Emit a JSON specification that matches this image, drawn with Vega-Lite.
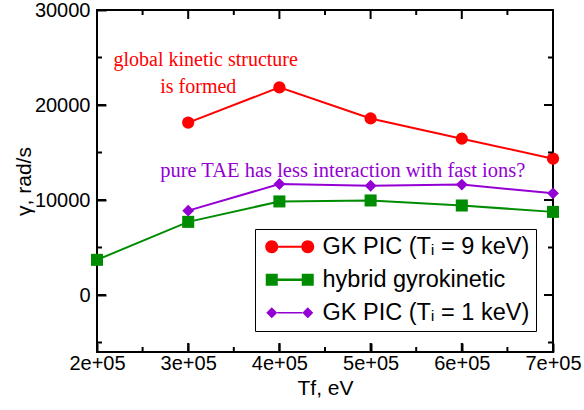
{
  "$schema": "https://vega.github.io/schema/vega-lite/v6.json",
  "width": 456,
  "height": 342,
  "autosize": "none",
  "padding": {"left": 97, "top": 10, "right": 31, "bottom": 58},
  "background": "white",
  "config": {
    "view": {"stroke": "black", "strokeWidth": 2},
    "font": "Liberation Sans",
    "axis": {"domain": false, "grid": false, "ticks": true, "tickColor": "black", "tickOpacity": 1, "tickWidth": 2, "labelColor": "black", "titleColor": "black", "labelFont": "Liberation Sans", "titleFont": "Liberation Sans", "labelFontSize": 20, "titleFontSize": 21, "titleFontWeight": "normal", "labelFlush": false, "labelOverlap": false}
  },
  "datasets": {
    "main": [
      {"Tf": 300000, "gamma": 18150, "series": "GK PIC (Tᵢ = 9 keV)"},
      {"Tf": 400000, "gamma": 21850, "series": "GK PIC (Tᵢ = 9 keV)"},
      {"Tf": 500000, "gamma": 18580, "series": "GK PIC (Tᵢ = 9 keV)"},
      {"Tf": 600000, "gamma": 16450, "series": "GK PIC (Tᵢ = 9 keV)"},
      {"Tf": 700000, "gamma": 14350, "series": "GK PIC (Tᵢ = 9 keV)"},
      {"Tf": 200000, "gamma": 3700, "series": "hybrid gyrokinetic"},
      {"Tf": 300000, "gamma": 7700, "series": "hybrid gyrokinetic"},
      {"Tf": 400000, "gamma": 9850, "series": "hybrid gyrokinetic"},
      {"Tf": 500000, "gamma": 9950, "series": "hybrid gyrokinetic"},
      {"Tf": 600000, "gamma": 9420, "series": "hybrid gyrokinetic"},
      {"Tf": 700000, "gamma": 8750, "series": "hybrid gyrokinetic"},
      {"Tf": 300000, "gamma": 8880, "series": "GK PIC (Tᵢ = 1 keV)"},
      {"Tf": 400000, "gamma": 11680, "series": "GK PIC (Tᵢ = 1 keV)"},
      {"Tf": 500000, "gamma": 11500, "series": "GK PIC (Tᵢ = 1 keV)"},
      {"Tf": 600000, "gamma": 11620, "series": "GK PIC (Tᵢ = 1 keV)"},
      {"Tf": 700000, "gamma": 10700, "series": "GK PIC (Tᵢ = 1 keV)"}
    ],
    "redNotes": [
      {"Tf": 319200, "gamma": 24140, "note": "global kinetic structure"},
      {"Tf": 311100, "gamma": 21230, "note": "is formed"}
    ],
    "purpleNotes": [
      {"Tf": 469500, "gamma": 12450, "note": "pure TAE has less interaction with fast ions?"}
    ],
    "xMajor": [{"v": 300000}, {"v": 400000}, {"v": 500000}, {"v": 600000}],
    "xMinor": [{"v": 250000}, {"v": 350000}, {"v": 450000}, {"v": 550000}, {"v": 650000}],
    "yMajor": [{"v": 0}, {"v": 10000}, {"v": 20000}],
    "yMinor": [{"v": -5000}, {"v": 5000}, {"v": 15000}, {"v": 25000}]
  },
  "layer": [
    {
      "data": {"name": "main"},
      "mark": {"type": "line", "strokeWidth": 2},
      "encoding": {
        "x": {"field": "Tf", "type": "quantitative", "scale": {"domain": [200000, 700000], "nice": false, "zero": false},
          "axis": {"orient": "bottom", "values": [200000, 300000, 400000, 500000, 600000, 700000], "offset": -9, "tickSize": 9, "labelPadding": 1, "labelExpr": "replace(format(datum.value, '.0e'), '+', '+0')", "title": "Tf, eV", "titlePadding": 4}},
        "y": {"field": "gamma", "type": "quantitative", "scale": {"domain": [-6000, 30000], "nice": false, "zero": false},
          "axis": {"orient": "left", "values": [0, 10000, 20000, 30000], "offset": -9, "tickSize": 9, "labelPadding": 7, "format": "d", "title": "γ, rad/s", "titlePadding": 0}},
        "color": {"field": "series", "type": "nominal",
          "scale": {"domain": ["GK PIC (Tᵢ = 9 keV)", "hybrid gyrokinetic", "GK PIC (Tᵢ = 1 keV)"], "range": ["#ff0000", "#008c00", "#9400d3"]},
          "legend": {
            "title": null, "orient": "none", "legendX": 158, "legendY": 219,
            "strokeColor": "black", "fillColor": "white", "padding": 6,
            "labelFont": "Liberation Sans", "labelFontSize": 23.5, "labelColor": "black", "labelLimit": 400,
            "symbolSize": 100, "symbolOffset": 17, "labelOffset": 21, "rowPadding": 8,
            "encode": {"symbols": {"update": {
              "shape": {"signal": "datum.value === 'hybrid gyrokinetic' ? 'M-4.8,-1.2 L-2.4,-1.2 L-2.4,1.2 L-4.8,1.2 Z M-2.4,-0.25 L2.4,-0.25 L2.4,0.25 L-2.4,0.25 Z M2.4,-1.2 L4.8,-1.2 L4.8,1.2 L2.4,1.2 Z' : (datum.value === 'GK PIC (Tᵢ = 9 keV)' ? 'M-4.9,0 A1.3,1.3 0 1,0 -2.3,0 A1.3,1.3 0 1,0 -4.9,0 Z M-2.3,-0.2 L2.3,-0.2 L2.3,0.2 L-2.3,0.2 Z M2.3,0 A1.3,1.3 0 1,0 4.9,0 A1.3,1.3 0 1,0 2.3,0 Z' : 'M-4.7,0 L-3.6,-1.1 L-2.5,0 L-3.6,1.1 Z M-2.5,-0.15 L2.5,-0.15 L2.5,0.15 L-2.5,0.15 Z M2.5,0 L3.6,-1.1 L4.7,0 L3.6,1.1 Z')"},
              "fill": {"scale": "color", "field": "value"},
              "fillOpacity": {"value": 1},
              "opacity": {"value": 1},
              "strokeWidth": {"value": 0}
            }}}
          }},
        "detail": {"field": "series"}
      }
    },
    {
      "data": {"name": "main"},
      "mark": {"type": "point", "filled": true, "opacity": 1},
      "encoding": {
        "x": {"field": "Tf", "type": "quantitative", "axis": null},
        "y": {"field": "gamma", "type": "quantitative", "axis": null},
        "color": {"field": "series", "type": "nominal", "legend": null},
        "shape": {"field": "series", "type": "nominal", "legend": null,
          "scale": {"domain": ["GK PIC (Tᵢ = 9 keV)", "hybrid gyrokinetic", "GK PIC (Tᵢ = 1 keV)"], "range": ["circle", "square", "diamond"]}},
        "size": {"field": "series", "type": "nominal", "legend": null,
          "scale": {"domain": ["GK PIC (Tᵢ = 9 keV)", "hybrid gyrokinetic", "GK PIC (Tᵢ = 1 keV)"], "range": [150, 140, 120]}}
      }
    },
    {
      "data": {"name": "redNotes"},
      "mark": {"type": "text", "color": "#ff0000", "font": "Liberation Serif", "fontSize": 20, "align": "center", "baseline": "alphabetic"},
      "encoding": {
        "x": {"field": "Tf", "type": "quantitative", "axis": null},
        "y": {"field": "gamma", "type": "quantitative", "axis": null},
        "text": {"field": "note"}
      }
    },
    {
      "data": {"name": "purpleNotes"},
      "mark": {"type": "text", "color": "#9400d3", "font": "Liberation Serif", "fontSize": 20.5, "align": "center", "baseline": "alphabetic"},
      "encoding": {
        "x": {"field": "Tf", "type": "quantitative", "axis": null},
        "y": {"field": "gamma", "type": "quantitative", "axis": null},
        "text": {"field": "note"}
      }
    },
    {
      "data": {"name": "xMajor"},
      "mark": {"type": "rule", "color": "black", "strokeWidth": 2, "opacity": 1},
      "encoding": {
        "x": {"field": "v", "type": "quantitative", "axis": null},
        "y": {"datum": -6000, "type": "quantitative", "axis": null},
        "y2": {"datum": -5050}
      }
    },
    {
      "data": {"name": "xMajor"},
      "mark": {"type": "rule", "color": "black", "strokeWidth": 2, "opacity": 1},
      "encoding": {
        "x": {"field": "v", "type": "quantitative", "axis": null},
        "y": {"datum": 30000, "type": "quantitative", "axis": null},
        "y2": {"datum": 29050}
      }
    },
    {
      "data": {"name": "xMinor"},
      "mark": {"type": "rule", "color": "black", "strokeWidth": 2, "opacity": 1},
      "encoding": {
        "x": {"field": "v", "type": "quantitative", "axis": null},
        "y": {"datum": -6000, "type": "quantitative", "axis": null},
        "y2": {"datum": -5470}
      }
    },
    {
      "data": {"name": "xMinor"},
      "mark": {"type": "rule", "color": "black", "strokeWidth": 2, "opacity": 1},
      "encoding": {
        "x": {"field": "v", "type": "quantitative", "axis": null},
        "y": {"datum": 30000, "type": "quantitative", "axis": null},
        "y2": {"datum": 29470}
      }
    },
    {
      "data": {"name": "yMajor"},
      "mark": {"type": "rule", "color": "black", "strokeWidth": 2, "opacity": 1},
      "encoding": {
        "y": {"field": "v", "type": "quantitative", "axis": null},
        "x": {"datum": 200000, "type": "quantitative", "axis": null},
        "x2": {"datum": 209870}
      }
    },
    {
      "data": {"name": "yMajor"},
      "mark": {"type": "rule", "color": "black", "strokeWidth": 2, "opacity": 1},
      "encoding": {
        "y": {"field": "v", "type": "quantitative", "axis": null},
        "x": {"datum": 700000, "type": "quantitative", "axis": null},
        "x2": {"datum": 690130}
      }
    },
    {
      "data": {"name": "yMinor"},
      "mark": {"type": "rule", "color": "black", "strokeWidth": 2, "opacity": 1},
      "encoding": {
        "y": {"field": "v", "type": "quantitative", "axis": null},
        "x": {"datum": 200000, "type": "quantitative", "axis": null},
        "x2": {"datum": 205480}
      }
    },
    {
      "data": {"name": "yMinor"},
      "mark": {"type": "rule", "color": "black", "strokeWidth": 2, "opacity": 1},
      "encoding": {
        "y": {"field": "v", "type": "quantitative", "axis": null},
        "x": {"datum": 700000, "type": "quantitative", "axis": null},
        "x2": {"datum": 694520}
      }
    }
  ],
  "resolve": {"axis": {"x": "independent", "y": "independent"}, "legend": {"color": "independent", "shape": "independent", "size": "independent"}}
}
